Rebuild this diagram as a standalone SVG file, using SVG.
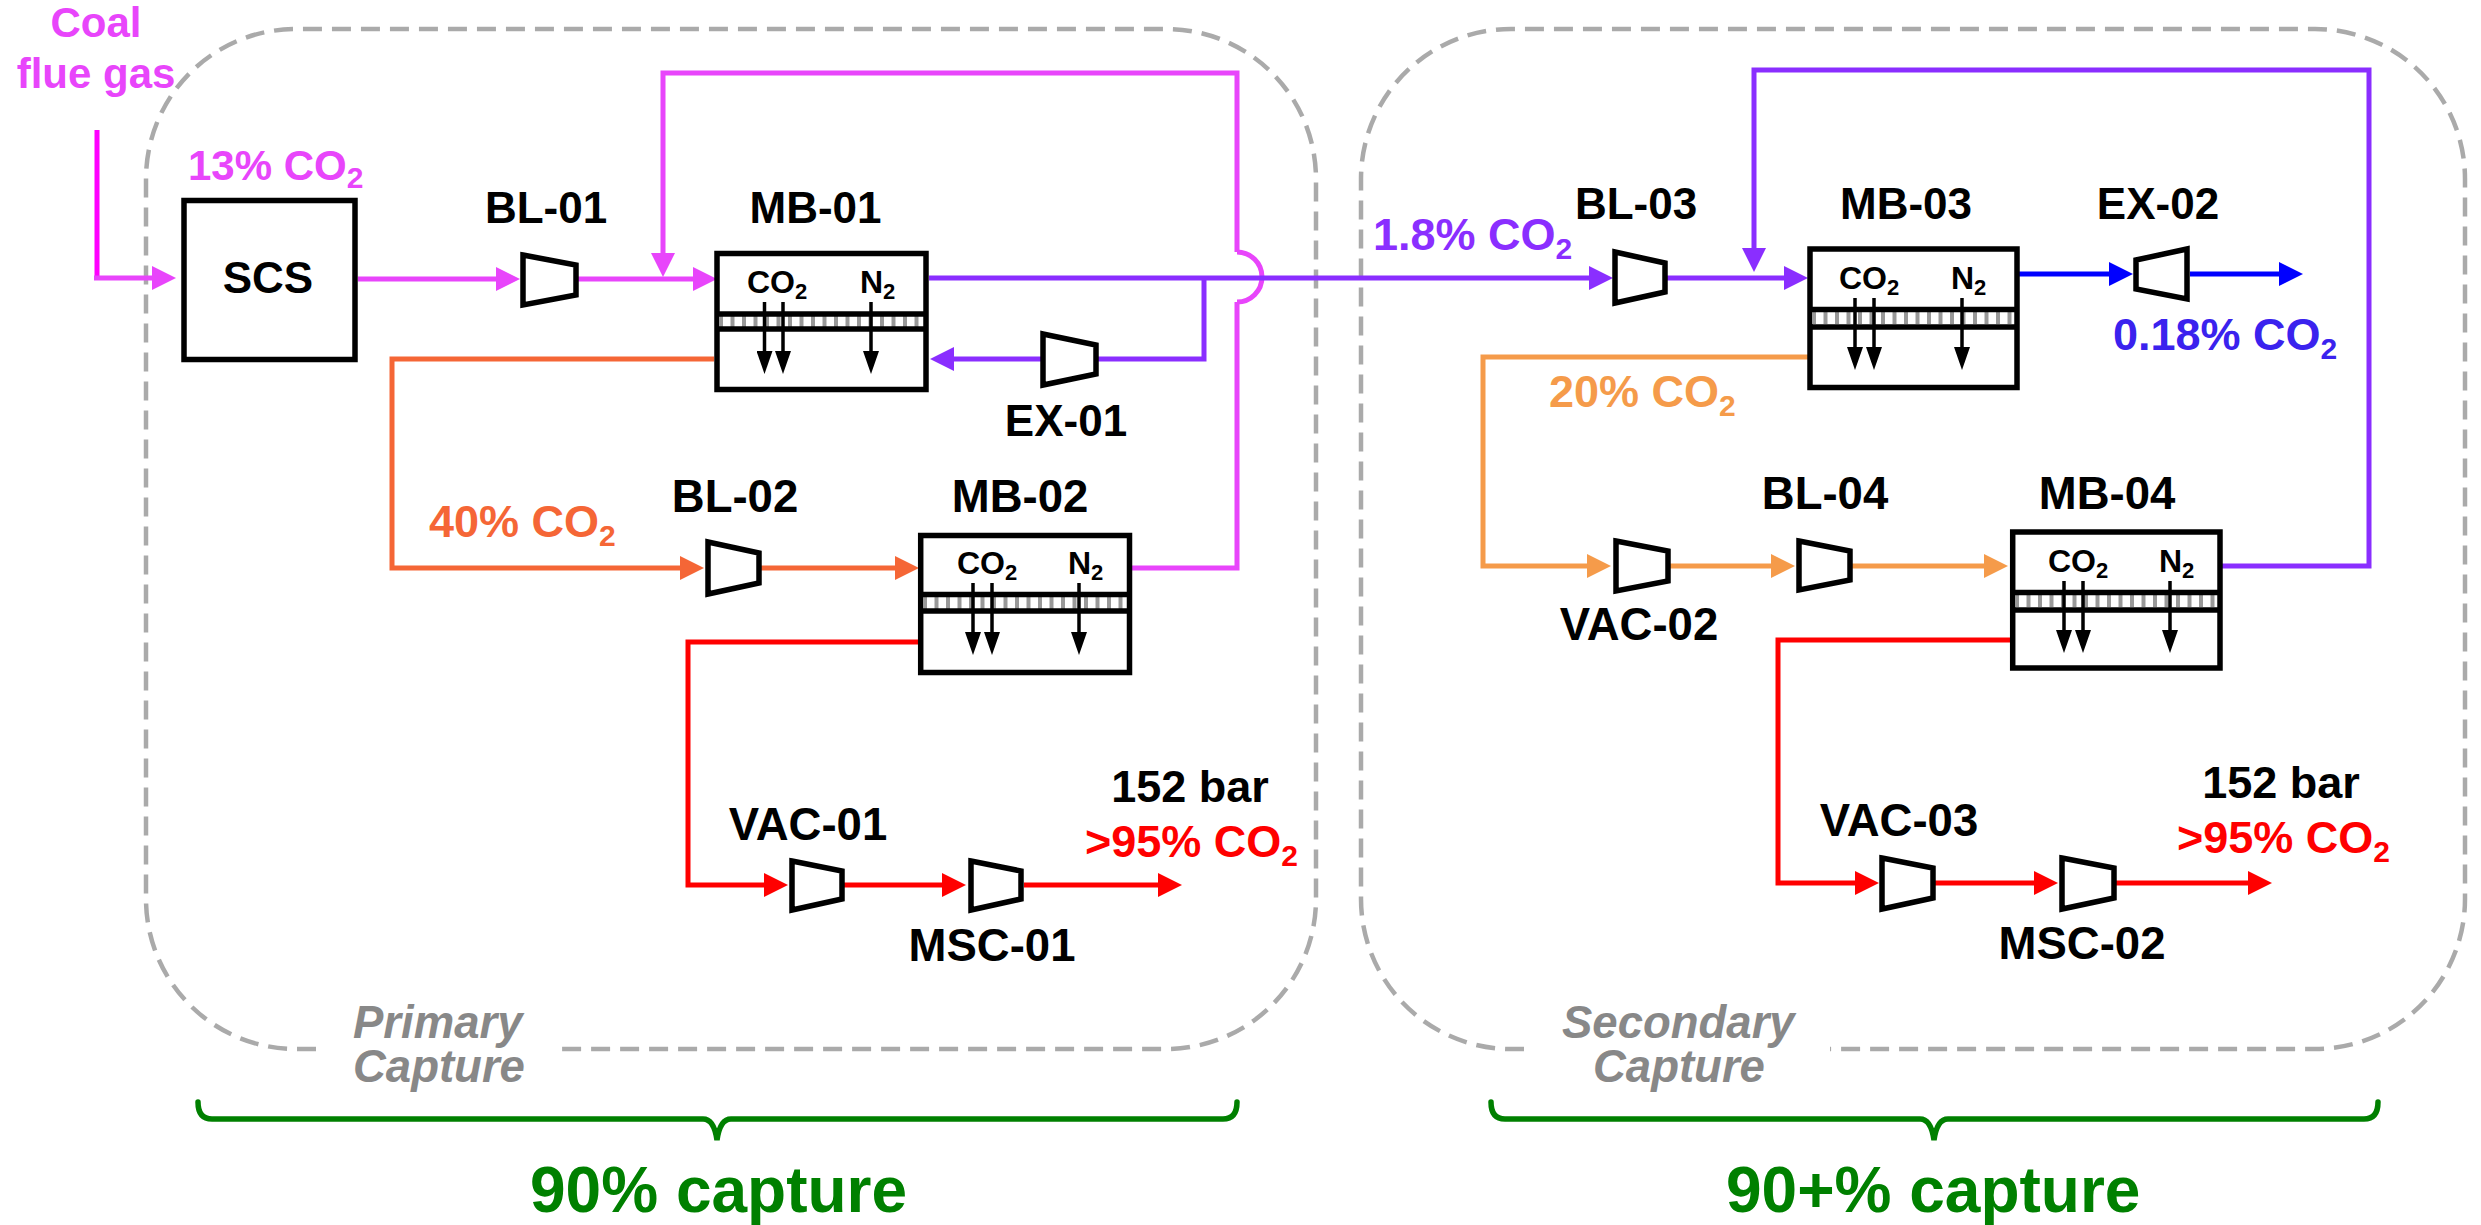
<svg xmlns="http://www.w3.org/2000/svg" width="2481" height="1225" viewBox="0 0 2481 1225">
<style>
text{font-family:"Liberation Sans",Arial,sans-serif;font-weight:bold;fill:#000;font-size:44px}
.boundary{fill:none;stroke:#aaa;stroke-width:4.5;stroke-dasharray:19 10}
.eq{fill:#fff;stroke:#000;stroke-width:5.5}
.band{stroke:#000;stroke-width:5.5}
.hatch{stroke:#999;stroke-width:12;stroke-dasharray:4 7.500}
.perm{stroke:#000;stroke-width:3.500;fill:none;marker-end:url(#ak)}
.l{fill:none;stroke-width:5;stroke-linejoin:miter}
.mag{stroke:#e845fb}.pur{stroke:#8a2eff}.blu{stroke:#0000ff}.org{stroke:#f56636}.lor{stroke:#f59b4a}.red{stroke:#ff0000}
.brace{fill:none;stroke:#008000;stroke-width:5.5;stroke-linecap:round}
.w{font-size:45.500px}
.sm{font-size:32px}
.sm tspan{font-size:22px}
.lb{font-size:45px}
.lb tspan{font-size:30px}
.cap{font-style:italic;fill:#888;font-size:45.500px}
.big{font-size:64px;fill:#008000}
.fm{fill:#e845fb}.fo{fill:#f56636}.fp{fill:#8a2eff}.fb{fill:#3a22ee}.fl{fill:#f59b4a}.fr{fill:#ff0000}
</style>
<defs>
<marker id="am" markerUnits="userSpaceOnUse" markerWidth="24" markerHeight="26" refX="12" refY="13" orient="auto"><path d="M0 1L24 13L0 25z" fill="#e845fb"/></marker>
<marker id="ap" markerUnits="userSpaceOnUse" markerWidth="24" markerHeight="26" refX="12" refY="13" orient="auto"><path d="M0 1L24 13L0 25z" fill="#8a2eff"/></marker>
<marker id="ab" markerUnits="userSpaceOnUse" markerWidth="24" markerHeight="26" refX="12" refY="13" orient="auto"><path d="M0 1L24 13L0 25z" fill="#0000ff"/></marker>
<marker id="ao" markerUnits="userSpaceOnUse" markerWidth="24" markerHeight="26" refX="12" refY="13" orient="auto"><path d="M0 1L24 13L0 25z" fill="#f56636"/></marker>
<marker id="al" markerUnits="userSpaceOnUse" markerWidth="24" markerHeight="26" refX="12" refY="13" orient="auto"><path d="M0 1L24 13L0 25z" fill="#f59b4a"/></marker>
<marker id="ar" markerUnits="userSpaceOnUse" markerWidth="24" markerHeight="26" refX="12" refY="13" orient="auto"><path d="M0 1L24 13L0 25z" fill="#ff0000"/></marker>
<marker id="ak" markerUnits="userSpaceOnUse" markerWidth="23" markerHeight="16" refX="10" refY="8" orient="auto"><path d="M0 0L23 8L0 16z" fill="#000"/></marker>
</defs>
<g id="boundaries">
<path class="boundary" d="M316 1049H296A150 150 0 0 1 146 899V179A150 150 0 0 1 296 29H1166A150 150 0 0 1 1316 179V899A150 150 0 0 1 1166 1049H561"/>
<path class="boundary" d="M1524 1049H1511A150 150 0 0 1 1361 899V179A150 150 0 0 1 1511 29H2315A150 150 0 0 1 2465 179V899A150 150 0 0 1 2315 1049H1830"/>
<path class="brace" d="M198 1102Q198 1119 212 1119H703Q714 1119 717 1140Q720 1119 731 1119H1223Q1237 1119 1237 1102"/>
<path class="brace" d="M1491 1102Q1491 1119 1505 1119H1920Q1931 1119 1934 1140Q1937 1119 1948 1119H2364Q2378 1119 2378 1102"/>
</g>
<g id="connectors">
<path class="l" stroke="#ff00ff" d="M97 130V278"/>
<path class="l mag" marker-end="url(#am)" d="M94 278H164"/>
<path class="l mag" marker-end="url(#am)" d="M358 279H508"/>
<path class="l mag" marker-end="url(#am)" d="M578 279H705"/>
<path class="l mag" marker-end="url(#am)" d="M1132 568H1237V302M1237 252V73H663V265"/>
<path class="l mag" d="M1237 252A25 25 0 0 1 1237 302"/>
<path class="l pur" marker-end="url(#ap)" d="M929 278H1601"/>
<path class="l pur" marker-end="url(#ap)" d="M1204 278V359H942"/>
<path class="l pur" marker-end="url(#ap)" d="M1667 278H1796"/>
<path class="l pur" marker-end="url(#ap)" d="M2222 566H2369V70H1754V260"/>
<path class="l blu" marker-end="url(#ab)" d="M2019 274H2121"/>
<path class="l blu" marker-end="url(#ab)" d="M2190 274H2291"/>
<path class="l org" marker-end="url(#ao)" d="M714 359H392V568H692"/>
<path class="l org" marker-end="url(#ao)" d="M761 568H907"/>
<path class="l lor" marker-end="url(#al)" d="M1808 357H1483V566H1599"/>
<path class="l lor" marker-end="url(#al)" d="M1670 566H1783"/>
<path class="l lor" marker-end="url(#al)" d="M1852 566H1996"/>
<path class="l red" marker-end="url(#ar)" d="M919 642H688V885H776"/>
<path class="l red" marker-end="url(#ar)" d="M844 885H954"/>
<path class="l red" marker-end="url(#ar)" d="M1024 885H1170"/>
<path class="l red" marker-end="url(#ar)" d="M2010 640H1778V883H1867"/>
<path class="l red" marker-end="url(#ar)" d="M1935 883H2046"/>
<path class="l red" marker-end="url(#ar)" d="M2116 883H2260"/>
</g>
<g id="SCS"><rect class="eq" x="184" y="200.500" width="171" height="159"/><text x="268" y="293" text-anchor="middle">SCS</text></g>
<g id="BL-01"><polygon class="eq" points="523,255 576,265 576,295 523,305"/><text x="546" y="223" text-anchor="middle">BL-01</text></g>
<g id="MB-01"><rect class="eq" x="717" y="253.500" width="209" height="136"/><line class="hatch" x1="719" x2="924" y1="321.500" y2="321.500"/><line class="band" x1="717" x2="926" y1="314" y2="314"/><line class="band" x1="717" x2="926" y1="329" y2="329"/>
<text class="sm" x="747" y="293">CO<tspan dy="6">2</tspan></text><text class="sm" x="860" y="293">N<tspan dy="6">2</tspan></text>
<path class="perm" d="M764.500 302V361"/><path class="perm" d="M783 302V361"/><path class="perm" d="M871 302V361"/><text x="815.500" y="223" text-anchor="middle">MB-01</text></g>
<g id="EX-01"><polygon class="eq" points="1043,334 1096,345 1096,374 1043,385"/><text x="1066" y="436" text-anchor="middle">EX-01</text></g>
<g id="BL-02"><polygon class="eq" points="708,542 759,553 759,583 708,594"/><text class="w" x="735" y="512" text-anchor="middle">BL-02</text></g>
<g id="MB-02"><rect class="eq" x="920.700" y="535.500" width="208.800" height="137"/><line class="hatch" x1="923" x2="1127" y1="603" y2="603"/><line class="band" x1="921" x2="1129.500" y1="594.500" y2="594.500"/><line class="band" x1="921" x2="1129.500" y1="611" y2="611"/>
<text class="sm" x="957" y="574">CO<tspan dy="6">2</tspan></text><text class="sm" x="1068" y="574">N<tspan dy="6">2</tspan></text>
<path class="perm" d="M973 583V642"/><path class="perm" d="M992 583V642"/><path class="perm" d="M1079 583V642"/><text class="w" x="1020" y="512" text-anchor="middle">MB-02</text></g>
<g id="VAC-01"><polygon class="eq" points="792,861 842,871 842,899 792,910"/><text class="w" x="808" y="840" text-anchor="middle">VAC-01</text></g>
<g id="MSC-01"><polygon class="eq" points="971,861 1021,871 1021,899 971,910"/><text class="w" x="992" y="961" text-anchor="middle">MSC-01</text></g>
<g id="BL-03"><polygon class="eq" points="1615,252 1665,263 1665,292 1615,303"/><text x="1636" y="219" text-anchor="middle">BL-03</text></g>
<g id="MB-03"><rect class="eq" x="1810" y="249" width="207" height="138.500"/><line class="hatch" x1="1812" x2="2015" y1="318" y2="318"/><line class="band" x1="1810" x2="2017" y1="309.500" y2="309.500"/><line class="band" x1="1810" x2="2017" y1="327" y2="327"/>
<text class="sm" x="1839" y="289">CO<tspan dy="6">2</tspan></text><text class="sm" x="1951" y="289">N<tspan dy="6">2</tspan></text>
<path class="perm" d="M1855 298V357"/><path class="perm" d="M1874 298V357"/><path class="perm" d="M1962 298V357"/><text x="1906" y="219" text-anchor="middle">MB-03</text></g>
<g id="EX-02"><polygon class="eq" points="2136,260 2187,249 2187,299 2136,289"/><text x="2158" y="219" text-anchor="middle">EX-02</text></g>
<g id="VAC-02"><polygon class="eq" points="1616,541 1668,551 1668,581 1616,591"/><text class="w" x="1639" y="640" text-anchor="middle">VAC-02</text></g>
<g id="BL-04"><polygon class="eq" points="1799,541 1850,551 1850,580 1799,590"/><text class="w" x="1825" y="509" text-anchor="middle">BL-04</text></g>
<g id="MB-04"><rect class="eq" x="2012.700" y="532" width="207.300" height="136"/><line class="hatch" x1="2015" x2="2218" y1="601" y2="601"/><line class="band" x1="2013" x2="2220" y1="592.500" y2="592.500"/><line class="band" x1="2013" x2="2220" y1="610" y2="610"/>
<text class="sm" x="2048" y="572">CO<tspan dy="6">2</tspan></text><text class="sm" x="2159" y="572">N<tspan dy="6">2</tspan></text>
<path class="perm" d="M2064 581V640"/><path class="perm" d="M2083 581V640"/><path class="perm" d="M2170 581V640"/><text class="w" x="2107" y="509" text-anchor="middle">MB-04</text></g>
<g id="VAC-03"><polygon class="eq" points="1882,858 1933,868 1933,898 1882,909"/><text class="w" x="1899" y="836" text-anchor="middle">VAC-03</text></g>
<g id="MSC-02"><polygon class="eq" points="2062,858 2114,868 2114,898 2062,909"/><text class="w" x="2082" y="959" text-anchor="middle">MSC-02</text></g>
<g id="labels">
<text class="fm" style="font-size:42px" x="96" y="37" text-anchor="middle">Coal</text>
<text class="fm" style="font-size:42px" x="96" y="88" text-anchor="middle">flue gas</text>
<text class="lb fm" style="font-size:42px" x="188" y="180">13% CO<tspan class="fm" dy="8">2</tspan></text>
<text class="lb fo" x="429" y="537">40% CO<tspan class="fo" dy="9">2</tspan></text>
<text class="lb fp" x="1373" y="250">1.8% CO<tspan class="fp" dy="9">2</tspan></text>
<text class="lb fb" x="2113" y="350">0.18% CO<tspan class="fb" dy="9">2</tspan></text>
<text class="lb fl" x="1549" y="407">20% CO<tspan class="fl" dy="9">2</tspan></text>
<text class="lb" x="1190" y="802" text-anchor="middle">152 bar</text>
<text class="lb fr" x="1085" y="857">&gt;95% CO<tspan class="fr" dy="9">2</tspan></text>
<text class="lb" x="2281" y="798" text-anchor="middle">152 bar</text>
<text class="lb fr" x="2177" y="853">&gt;95% CO<tspan class="fr" dy="9">2</tspan></text>
<text class="cap" x="353" y="1038">Primary<tspan class="cap" x="353" dy="44">Capture</tspan></text>
<text class="cap" x="1562" y="1038">Secondary<tspan class="cap" x="1593" dy="44">Capture</tspan></text>
<text class="big" x="530" y="1212">90% capture</text>
<text class="big" x="1726" y="1212">90+% capture</text>
</g>
</svg>
